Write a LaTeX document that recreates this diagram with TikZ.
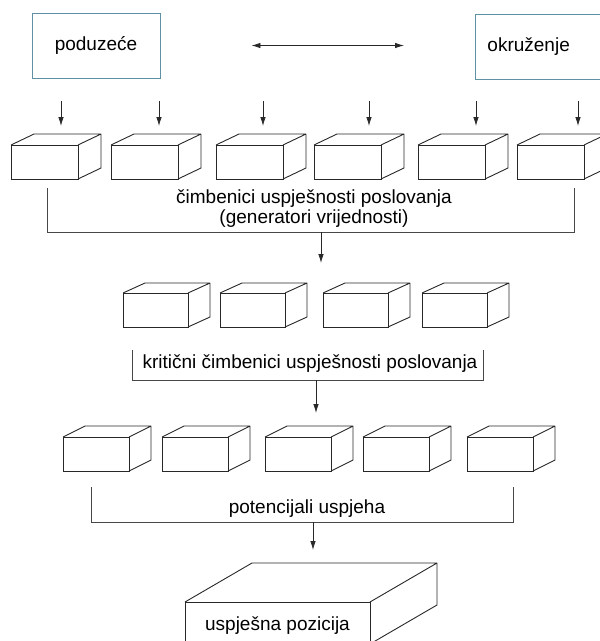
\documentclass[tikz,border=0pt]{standalone}
\usepackage{fontspec}
\setmainfont{Liberation Sans}
\usetikzlibrary{positioning}
\usetikzlibrary{calc}
\usetikzlibrary{arrows.meta}
\definecolor{okvirboja}{RGB}{95,145,165}
\definecolor{crta}{RGB}{40,40,40}

\begin{document}
\begin{tikzpicture}[x=1pt, y=-1pt,
                        tekst/.style={font=\fontsize{19}{20}\selectfont, inner sep=0pt, align=center},
                        okvir/.style={draw=okvirboja, line width=0.9pt, minimum height=65pt, inner sep=0pt},
                        prednja/.style={draw=crta, line width=0.9pt, fill=white, anchor=north west, outer sep=0pt, inner sep=0pt},
                        rub/.style={draw=crta, line width=0.9pt, line join=round},
                        zagrada/.style={draw=crta!85, line width=0.8pt},
                        strelica/.style={draw=crta, line width=0.8pt, -{Latex[length=9pt,width=5.5pt]}}]
            \useasboundingbox (0,0) rectangle (600,641);

            % poduzece i okruzenje
            \node[okvir, tekst, minimum width=128pt] (poduzece) at (96,45.5) {poduzeće};
            \node[okvir, tekst, anchor=west, text width=120pt, align=left, inner xsep=12pt] (okruzenje) at (475,46.5) {okruženje};
            \draw[strelica, {Latex[length=9pt,width=5.5pt]}-{Latex[length=9pt,width=5.5pt]},
                  shorten <=91pt, shorten >=71pt] (poduzece.east) -- (poduzece.east -| okruzenje.west);

            % cimbenici uspjesnosti
            \foreach \x/\s [count=\i] in {11/61, 111/159, 216/263, 314/369, 418/476, 517/578} {
                \node[prednja, minimum width=67pt, minimum height=34pt] (a\i) at (\x,145) {};
                \draw[rub] (a\i.north west) -- ++(23,-11) -- ++(67,0) -- ++(0,34) -- (a\i.south east)
                           (a\i.north east) -- ++(23,-11);
                \coordinate (gore\i) at (\s,101);
                \draw[strelica, shorten >=19pt] (gore\i) -- (gore\i |- a\i.north);
            }
            \node[tekst] (cimbenici) at (314,209) {čimbenici uspješnosti poslovanja\\(generatori vrijednosti)};
            \coordinate (z1l) at (47,188);
            \coordinate (z1d) at (47,232);
            \coordinate (z1r) at (574,188);
            \draw[zagrada] (z1l) -- (z1d) -| (z1r);
            \coordinate (z1s) at (321,232);
            \coordinate (z1k) at (321,263);
            \draw[strelica] (z1s) -- (z1k);

            % kriticni cimbenici
            \foreach \x [count=\i] in {123, 220, 323, 422} {
                \node[prednja, minimum width=65pt, minimum height=34pt] (b\i) at (\x,293) {};
                \draw[rub] (b\i.north west) -- ++(22,-10) -- ++(65,0) -- ++(0,34) -- (b\i.south east)
                           (b\i.north east) -- ++(22,-10);
            }
            \node[tekst] (kriticni) at (310,364) {kritični čimbenici uspješnosti poslovanja};
            \coordinate (z2l) at (132,350);
            \coordinate (z2d) at (132,380);
            \coordinate (z2r) at (483,350);
            \draw[zagrada] (z2l) -- (z2d) -| (z2r);
            \coordinate (z2s) at (316,380);
            \coordinate (z2k) at (316,413);
            \draw[strelica] (z2s) -- (z2k);

            % potencijali uspjeha
            \foreach \x [count=\i] in {63, 162, 265, 363, 467} {
                \node[prednja, minimum width=66pt, minimum height=34pt] (c\i) at (\x,437) {};
                \draw[rub] (c\i.north west) -- ++(22,-11) -- ++(66,0) -- ++(0,34) -- (c\i.south east)
                           (c\i.north east) -- ++(22,-11);
            }
            \node[tekst] (potencijali) at (307,508.5) {potencijali uspjeha};
            \coordinate (z3l) at (91,487);
            \coordinate (z3d) at (91,522);
            \coordinate (z3r) at (513,487);
            \draw[zagrada] (z3l) -- (z3d) -| (z3r);
            \coordinate (z3s) at (313,522);
            \coordinate (z3k) at (313,550);
            \draw[strelica] (z3s) -- (z3k);

            % uspjesna pozicija
            \node[prednja, minimum width=185pt, minimum height=42pt] (pozicija) at (185,602) {};
            \draw[rub] (pozicija.north west) -- ++(67,-39) -- ++(185,0) -- ++(0,42) -- (pozicija.south east)
                       (pozicija.north east) -- ++(67,-39);
            \node[tekst] (uspjesna) at (277.5,625.5) {uspješna pozicija};
        \end{tikzpicture}
\end{document}
